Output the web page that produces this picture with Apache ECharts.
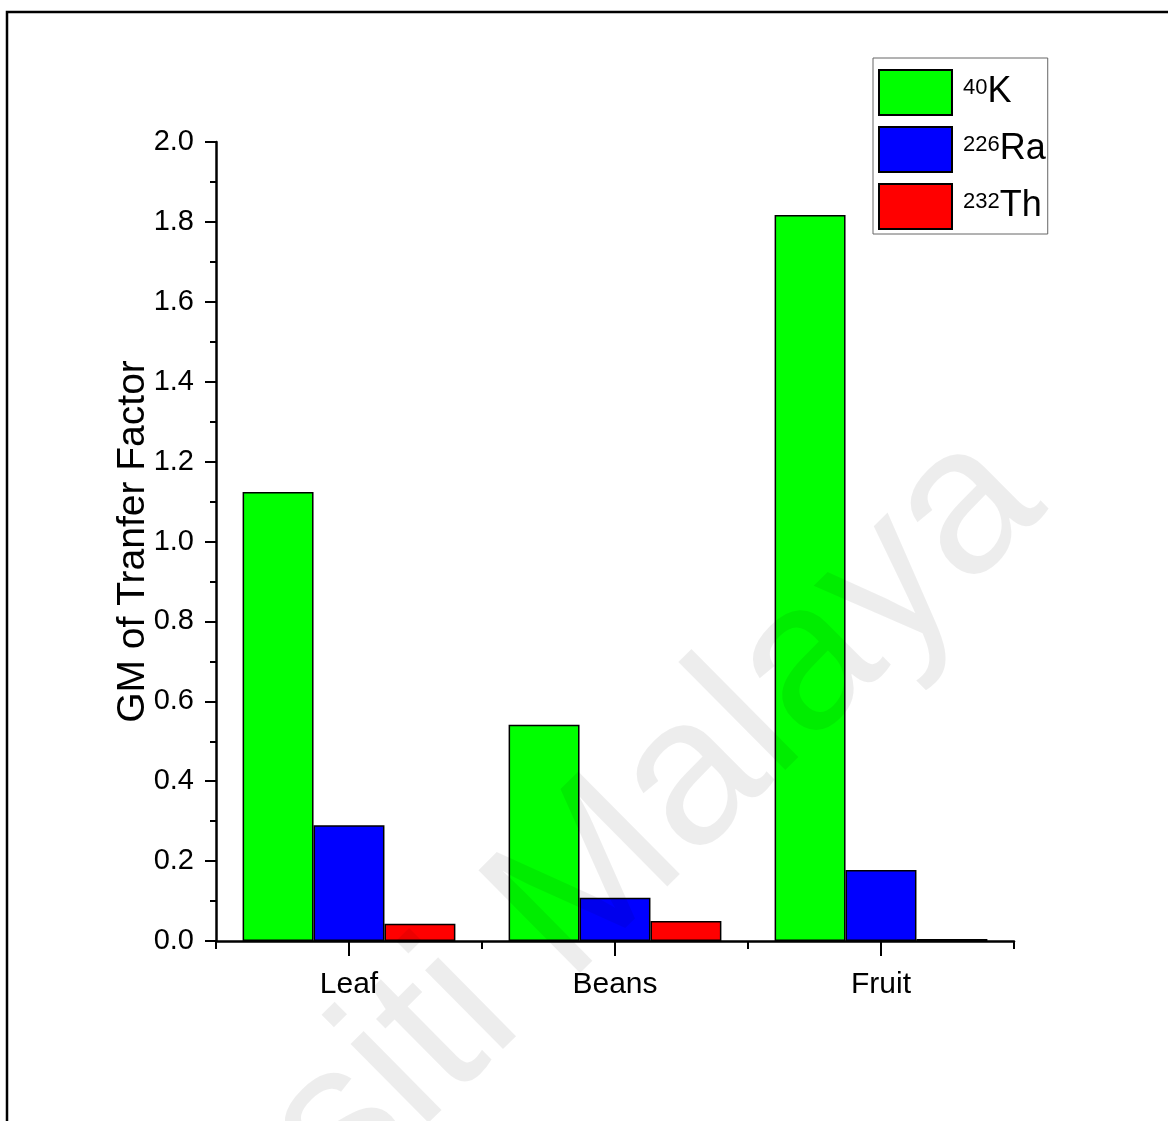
<!DOCTYPE html>
<html>
<head>
<meta charset="utf-8">
<script src="https://cdn.jsdelivr.net/npm/echarts@6/dist/echarts.min.js"></script>
<style>
  html, body { margin: 0; padding: 0; background: #fff; }
  #chart { width: 1168px; height: 1121px; }
</style>
</head>
<body>
<div id="chart"></div>
<script>
// Geometric mean transfer factor per plant part
const categories = ['Leaf', 'Beans', 'Fruit'];
const seriesNames = ['40K', '226Ra', '232Th'];
const k40 = [1.124, 0.541, 1.817];
const ra226 = [0.290, 0.108, 0.178];
const th232 = [0.043, 0.050, 0.005];
const yTicks = { min: 0, max: 2.0, step: 0.2 };

const colors = ['#00ff00', '#0000ff', '#ff0000'];
const FONT = "'Liberation Sans', Arial, sans-serif";

// mass number as superscript, element symbol as main text
const isotopeParts = n => {
  const m = n.match(/^(\d+)(.*)$/);
  return { mass: m[1], sym: m[2] };
};

const chart = echarts.init(document.getElementById('chart'));

const barSeries = [k40, ra226, th232].map((vals, i) => ({
  name: seriesNames[i],
  type: 'bar',
  xAxisIndex: 0,
  data: vals,
  barGap: '0%',
  barCategoryGap: '20%',
  itemStyle: { color: colors[i], borderColor: '#000', borderWidth: 1.5 },
  z: 2
}));

chart.setOption({
  animation: false,
  backgroundColor: '#fff',
  grid: { left: 216, right: 154, top: 142, bottom: 180, containLabel: false },
  legend: {
    orient: 'vertical',
    left: 873,
    top: 58,
    padding: [11, 2, 4, 5],
    itemWidth: 73,
    itemHeight: 45,
    itemGap: 10,
    borderColor: '#666',
    borderWidth: 1,
    backgroundColor: '#fff',
    icon: 'rect',
    data: seriesNames,
    formatter: n => {
      const p = isotopeParts(n);
      return '{sup|' + p.mass + '}{main|' + p.sym + '}';
    },
    textStyle: {
      fontFamily: FONT,
      padding: [0, 0, 0, 6],
      rich: {
        sup: { fontFamily: FONT, fontSize: 22, color: '#000', verticalAlign: 'top', lineHeight: 34, padding: [1, 0, 0, 0] },
        main: { fontFamily: FONT, fontSize: 36, color: '#000', lineHeight: 34 }
      }
    }
  },
  xAxis: [
    {
      type: 'category',
      data: categories,
      position: 'bottom',
      axisLine: { show: true, lineStyle: { color: '#000', width: 2.5 } },
      axisTick: { show: true, alignWithLabel: true, length: 15, lineStyle: { color: '#000', width: 2 } },
      axisLabel: { color: '#000', fontFamily: FONT, fontSize: 30, margin: 29 },
      splitLine: { show: false }
    },
    {
      // short ticks on the category boundaries
      type: 'category',
      data: categories,
      position: 'bottom',
      axisLine: { show: false },
      axisTick: { show: true, length: 8, lineStyle: { color: '#000', width: 2 } },
      axisLabel: { show: false },
      splitLine: { show: false }
    }
  ],
  yAxis: {
    type: 'value',
    min: yTicks.min,
    max: yTicks.max,
    interval: yTicks.step,
    name: 'GM of Tranfer Factor',
    nameLocation: 'middle',
    nameGap: 63,
    nameMoveOverlap: false,
    nameTextStyle: { color: '#000', fontFamily: FONT, fontSize: 39 },
    axisLine: { show: true, lineStyle: { color: '#000', width: 2.5 } },
    axisTick: { show: true, length: 11, lineStyle: { color: '#000', width: 2 } },
    minorTick: { show: true, splitNumber: 2, length: 6, lineStyle: { color: '#000', width: 2 } },
    axisLabel: { color: '#000', fontFamily: FONT, fontSize: 29, margin: 22, formatter: v => v.toFixed(1) },
    splitLine: { show: false }
  },
  graphic: [
    {
      type: 'rect',
      shape: { x: 7, y: 12, width: 1300, height: 1300 },
      style: { fill: 'none', stroke: '#000', lineWidth: 2.5 },
      silent: true,
      z: 100
    },
    {
      type: 'text',
      x: 440,
      y: 1030,
      rotation: 0.78,
      silent: true,
      z: 100,
      style: {
        text: 'Universiti Malaya',
        font: "210px 'Liberation Sans', Arial, sans-serif",
        fill: 'rgba(0,0,0,0.07)',
        textAlign: 'center',
        textVerticalAlign: 'middle'
      }
    }
  ],
  series: barSeries
});
</script>
</body>
</html>
